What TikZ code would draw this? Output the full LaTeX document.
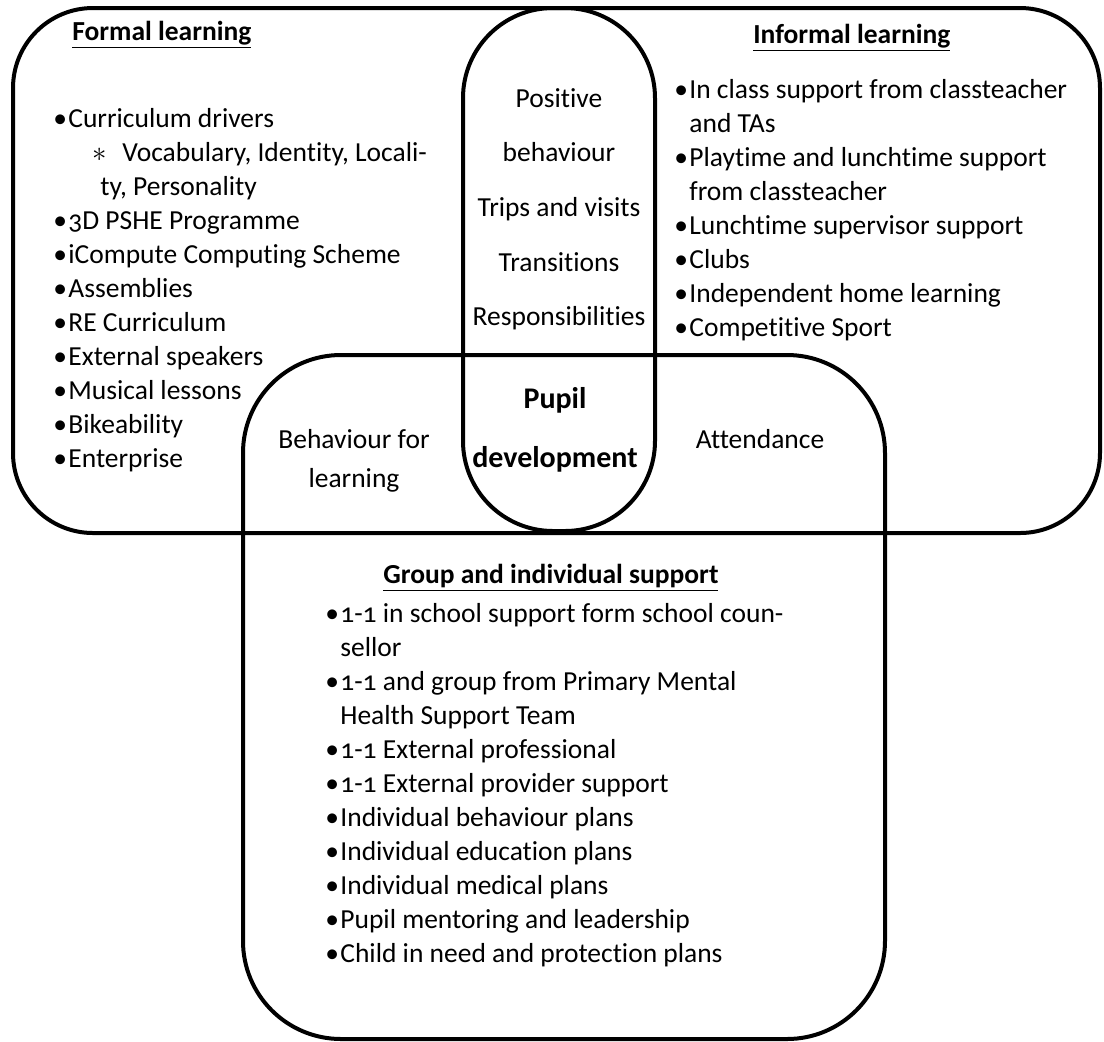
\documentclass[tikz,border=0pt]{standalone}
\usepackage{fontspec}
\setmainfont{Carlito}[Numbers=OldStyle, Ligatures=NoCommon]
\newcommand{\bodyfont}{\fontsize{13.75}{17}\selectfont}
\newcommand{\bul}{\makebox[7.5pt][l]{\textbullet}}
\newcommand{\ttl}[1]{\underline{\textbf{#1}}}

\begin{document}
\begin{tikzpicture}[x=0.5pt,y=-0.5pt,
  region/.style={line width=2pt},
  lbl/.style={inner sep=0pt, font=\bodyfont}]
  \useasboundingbox (0,0) rectangle (1104,1041);
  % the three regions
  \draw[region, rounded corners=40pt] (13,8) rectangle (1100,533);
  \draw[region, rounded corners=45pt] (463,8) rectangle (655,531);
  \draw[region, rounded corners=49pt] (243,355) rectangle (885,1039);
  % titles
  \node[lbl, anchor=base west] (formal) at (72,40) {\ttl{Formal learning}};
  \node[lbl, anchor=base west] (informal) at (753,43) {\ttl{Informal learning}};
  \node[lbl, anchor=base west] (group) at (383,583) {\ttl{Group and individual support}};
  % formal learning
  \node[lbl, anchor=base west] (formallist) at (53,127) {\begin{tabular}[t]{@{}l@{}}
    \bul Curriculum drivers\\
    \hspace*{19.5pt}\makebox[15pt][l]{$\ast$}Vocabulary, Identity, Locali-\\
    \hspace*{23.5pt}ty, Personality\\
    \bul 3D PSHE Programme\\
    \bul iCompute Computing Scheme\\
    \bul Assemblies\\
    \bul RE Curriculum\\
    \bul External speakers\\
    \bul Musical lessons\\
    \bul Bikeability\\
    \bul Enterprise
  \end{tabular}};
  % informal learning
  \node[lbl, anchor=base west] (informallist) at (674,98) {\begin{tabular}[t]{@{}l@{}}
    \bul In class support from classteacher\\
    \hspace*{7.5pt}and TAs\\
    \bul Playtime and lunchtime support\\
    \hspace*{7.5pt}from classteacher\\
    \bul Lunchtime supervisor support\\
    \bul Clubs\\
    \bul Independent home learning\\
    \bul Competitive Sport
  \end{tabular}};
  % overlaps
  \node[lbl, anchor=base, font=\fontsize{13.75}{27.35}\selectfont] (pillnote) at (559,107) {\begin{tabular}[t]{@{}c@{}}
    Positive\\ behaviour\\ Trips and visits\\ Transitions\\ Responsibilities
  \end{tabular}};
  \node[lbl, anchor=base, font=\fontsize{15}{29.5}\selectfont\bfseries] (pupil) at (555,408) {\begin{tabular}[t]{@{}c@{}}
    Pupil\\ development
  \end{tabular}};
  \node[lbl, anchor=base, font=\fontsize{13.75}{19.5}\selectfont] (bfl) at (354,448) {\begin{tabular}[t]{@{}c@{}}
    Behaviour for\\ learning
  \end{tabular}};
  \node[lbl, anchor=base] (attend) at (760,448) {Attendance};
  % group and individual support
  \node[lbl, anchor=base west] (grouplist) at (325,622) {\begin{tabular}[t]{@{}l@{}}
    \bul 1-1 in school support form school coun-\\
    \hspace*{7.5pt}sellor\\
    \bul 1-1 and group from Primary Mental\\
    \hspace*{7.5pt}Health Support Team\\
    \bul 1-1 External professional\\
    \bul 1-1 External provider support\\
    \bul Individual behaviour plans\\
    \bul Individual education plans\\
    \bul Individual medical plans\\
    \bul Pupil mentoring and leadership\\
    \bul Child in need and protection plans
  \end{tabular}};
\end{tikzpicture}
\end{document}
